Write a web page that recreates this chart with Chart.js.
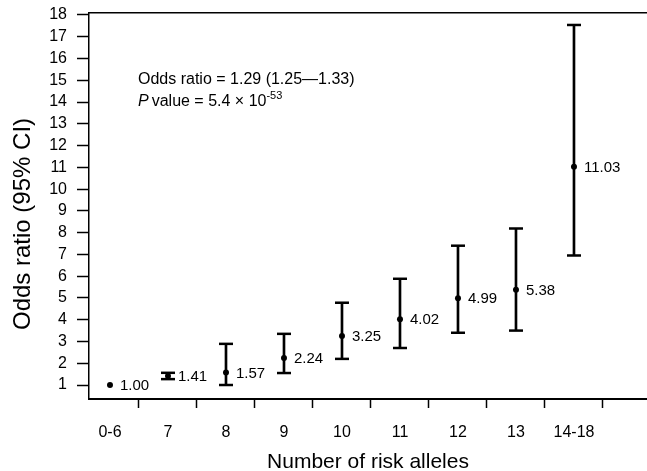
<!DOCTYPE html>
<html>
<head>
<meta charset="utf-8">
<script src="https://cdn.jsdelivr.net/npm/chart.js@4/dist/chart.umd.min.js"></script>
<style>
html,body{margin:0;padding:0;background:#fff;overflow:hidden;}
#wrap{width:647px;height:471px;position:relative;}
</style>
</head>
<body>
<div id="wrap"><canvas id="c" width="647" height="471"></canvas></div>
<script>
const categories = ['0-6','7','8','9','10','11','12','13','14-18'];
const oddsRatio = [1.00, 1.41, 1.57, 2.24, 3.25, 4.02, 4.99, 5.38, 11.03];
const ciLower  = [null, 1.27, 1.00, 1.55, 2.20, 2.70, 3.40, 3.50, 6.95];
const ciUpper  = [null, 1.56, 2.89, 3.35, 4.78, 5.88, 7.40, 8.19, 17.54];
const yTickValues = [1,2,3,4,5,6,7,8,9,10,11,12,13,14,15,16,17,18];
const valueLabels = ['1.00','1.41','1.57','2.24','3.25','4.02','4.99','5.38','11.03'];
const xTitle = 'Number of risk alleles';
const yTitle = 'Odds ratio (95% CI)';

const FONT = '"Liberation Sans", Arial, Helvetica, sans-serif';

const ciBars = categories.map((c,i)=> ciLower[i]==null ? null : {x:i, y:[ciLower[i], ciUpper[i]]}).filter(d=>d);
const lowCaps = categories.map((c,i)=> ciLower[i]==null ? null : {x:i, y:ciLower[i]}).filter(d=>d);
const highCaps = categories.map((c,i)=> ciUpper[i]==null ? null : {x:i, y:ciUpper[i]}).filter(d=>d);
const points = oddsRatio.map((v,i)=>({x:i, y:v}));

const labelPlugin = {
  id:'valueLabels',
  afterDatasetsDraw(chart){
    const meta = chart.getDatasetMeta(3);
    const ctx = chart.ctx;
    ctx.save();
    ctx.font = '15px ' + FONT;
    ctx.fillStyle = '#000';
    ctx.textBaseline = 'middle';
    ctx.textAlign = 'left';
    meta.data.forEach((el,i)=>{
      ctx.fillText(valueLabels[i], el.x + 10, el.y + 1);
    });
    ctx.restore();
  }
};

const annotationPlugin = {
  id:'annot',
  afterDraw(chart){
    const ctx = chart.ctx, a = chart.chartArea;
    const x0 = a.left + 49;
    ctx.save();
    ctx.fillStyle = '#000';
    ctx.textBaseline = 'alphabetic';
    ctx.textAlign = 'left';
    ctx.font = '16px ' + FONT;
    ctx.fillText('Odds ratio = 1.29 (1.25\u20141.33)', x0, a.top + 71);
    let x = x0;
    const y2 = a.top + 93;
    ctx.font = 'italic 16px ' + FONT;
    ctx.fillText('P', x, y2);
    x += ctx.measureText('P').width + 3;
    ctx.font = '16px ' + FONT;
    const t = 'value = 5.4 \u00d7 10';
    ctx.fillText(t, x, y2);
    x += ctx.measureText(t).width;
    ctx.font = '11px ' + FONT;
    ctx.fillText('-53', x, y2 - 7);
    // y axis title
    ctx.font = '24px ' + FONT;
    ctx.translate(23, (a.top + a.bottom) / 2 + 18);
    ctx.rotate(-Math.PI / 2);
    ctx.textAlign = 'center';
    ctx.textBaseline = 'middle';
    ctx.fillText(yTitle, 0, 0);
    ctx.restore();
  }
};

new Chart(document.getElementById('c'), {
  data: {
    datasets: [
      {type:'bar', data: ciBars, backgroundColor:'#000', barThickness:2, borderWidth:0},
      {type:'scatter', data: lowCaps, pointStyle:'line', pointRadius:7, pointBorderWidth:2.5, borderColor:'#000', backgroundColor:'#000'},
      {type:'scatter', data: highCaps, pointStyle:'line', pointRadius:7, pointBorderWidth:2.5, borderColor:'#000', backgroundColor:'#000'},
      {type:'scatter', data: points, pointStyle:'circle', pointRadius:3, pointBorderWidth:0, borderColor:'#000', backgroundColor:'#000'}
    ]
  },
  options: {
    responsive:false,
    animation:false,
    events:[],
    layout:{padding:0, autoPadding:false},
    plugins:{legend:{display:false}, tooltip:{enabled:false}},
    scales:{
      x:{
        type:'linear', position:'bottom', min:-0.362, max:9.259, offset:false,
        afterBuildTicks(s){ s.ticks = categories.map((c,i)=>({value:i})); },
        afterFit(s){ s.height = 72; s.paddingLeft = 0; s.paddingRight = 0; },
        grid:{drawOnChartArea:false, drawTicks:true, tickLength:9, tickColor:'#000', tickWidth:1.5},
        border:{display:true, color:'#000', width:2},
        ticks:{color:'#000', font:{family:FONT, size:16}, padding:15, autoSkip:false, maxRotation:0,
          callback:(v)=>categories[v]},
        title:{display:true, text:xTitle, color:'#000', font:{family:FONT, size:21, lineHeight:0.8}, padding:{top:0,bottom:0}}
      },
      xTop:{
        type:'linear', position:'top', min:-0.362, max:9.259,
        afterFit(s){ s.height = 13; s.paddingLeft = 0; s.paddingRight = 0; },
        grid:{display:false, drawTicks:false},
        border:{display:true, color:'#000', width:1.5},
        ticks:{display:false}
      },
      y:{
        type:'linear', position:'left', min:0.357, max:18.09,
        afterBuildTicks(s){ s.ticks = yTickValues.map(v=>({value:v})); },
        afterFit(s){ s.width = 89; s.paddingTop = 0; s.paddingBottom = 0; },
        grid:{drawOnChartArea:false, drawTicks:true, tickLength:12, tickColor:'#000', tickWidth:1.5},
        border:{display:true, color:'#000', width:1.5},
        ticks:{color:'#000', font:{family:FONT, size:16}, padding:10, autoSkip:false},
        title:{display:false}
      }
    }
  },
  plugins:[labelPlugin, annotationPlugin]
});
</script>
</body>
</html>
